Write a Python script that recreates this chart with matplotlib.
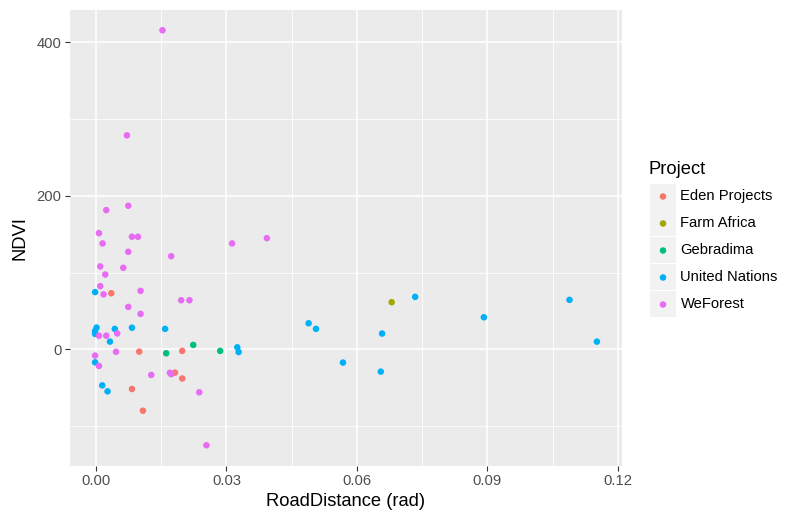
import matplotlib
matplotlib.use("Agg")
import matplotlib.pyplot as plt
from matplotlib.patches import Rectangle
from matplotlib.ticker import MultipleLocator

plt.rcParams['font.family'] = ['Liberation Sans', 'DejaVu Sans']

projects = ["Eden Projects", "Farm Africa", "Gebradima", "United Nations", "WeForest"]
colors = ["#F8766D", "#A3A500", "#00BF7D", "#00B0F6", "#E76BF3"]

eden_x = [0.00352, 0.00995, 0.01984, 0.01816, 0.01984, 0.00828, 0.0108]
eden_y = [73.0, -3.0, -2.1, -30.4, -38.0, -51.7, -80.0]

farm_x = [0.0680]
farm_y = [61.3]

gebr_x = [0.02237, 0.01616, 0.02857]
gebr_y = [5.7, -5.2, -2.1]

un_x = [-0.0002, 0.00014, -0.0002, -0.0002, 0.00433, 0.00828, 0.01590, 0.00322,
        0.0325, 0.0328, -0.0002, 0.00145, 0.00267, 0.0489, 0.0506, 0.0658,
        0.0734, 0.0892, 0.1089, 0.1152, 0.0568, 0.0655]
un_y = [74.5, 28.3, 23.8, 20.0, 26.6, 28.1, 26.6, 10.0,
        2.6, -3.6, -17.0, -47.0, -54.8, 33.9, 26.6, 20.5,
        68.3, 41.7, 64.4, 10.0, -17.3, -29.1]

wef_x = [0.0153, 0.00713, 0.00743, 0.00237, 0.00069, 0.00828, 0.00966, 0.00152,
         0.0313, 0.00743, 0.0173, 0.00099, 0.00628, 0.00214, 0.00099, 0.00175,
         0.01026, 0.0196, 0.0215, 0.00743, 0.01026, 0.00069, 0.00237, 0.0049,
         0.0046, -0.0002, 0.00069, 0.01271, 0.0170, 0.0173, 0.02375, 0.0254,
         0.0393]
wef_y = [415.6, 278.7, 187.0, 181.3, 151.3, 146.6, 146.6, 137.9,
         137.9, 127.0, 121.3, 107.9, 106.2, 97.4, 82.2, 71.5,
         76.1, 63.9, 63.9, 55.2, 46.1, 17.7, 17.7, 20.7,
         -3.2, -8.2, -21.7, -33.4, -30.6, -32.4, -56.0, -125.0,
         144.8]

series_x = [eden_x, farm_x, gebr_x, un_x, wef_x]
series_y = [eden_y, farm_y, gebr_y, un_y, wef_y]

W, H = 790, 513
fig = plt.figure(figsize=(W / 100, H / 100), dpi=100)
fig.patch.set_facecolor("white")

def px_box(l, t, r, b):
    return [l / W, 1 - b / H, (r - l) / W, (b - t) / H]

ax = fig.add_axes(px_box(70, 9.5, 622, 466))
ax.set_facecolor("#EBEBEB")
for sp in ax.spines.values():
    sp.set_visible(False)

for xs, ys, c in zip(series_x, series_y, colors):
    ax.scatter(xs, ys, s=22, color=c, edgecolors="none", zorder=3)

allx = [v for s in series_x for v in s]
ally = [v for s in series_y for v in s]
dx = (max(allx) - min(allx)) * 0.05
dy = (max(ally) - min(ally)) * 0.05
ax.set_xlim(min(allx) - dx, max(allx) + dx)
ax.set_ylim(min(ally) - dy, max(ally) + dy)

ax.xaxis.set_major_locator(MultipleLocator(0.03))
ax.xaxis.set_minor_locator(MultipleLocator(0.015))
ax.yaxis.set_major_locator(MultipleLocator(200))
ax.yaxis.set_minor_locator(MultipleLocator(100))
ax.set_xticks([0.0, 0.03, 0.06, 0.09, 0.12])
ax.set_xticklabels(["0.00", "0.03", "0.06", "0.09", "0.12"])
ax.set_yticks([0, 200, 400])
ax.set_yticklabels(["0", "200", "400"])

ax.grid(which="major", color="white", linewidth=1.1, zorder=0)
ax.grid(which="minor", color="white", linewidth=0.55, zorder=0)
ax.set_axisbelow(True)
ax.tick_params(which="major", length=3.6, width=0.8, color="#333333",
               labelcolor="#4D4D4D", labelsize=10.6, pad=2.5)
ax.tick_params(which="minor", length=0)

ax.set_xlabel("RoadDistance (rad)", fontsize=13.2, color="black", labelpad=3)
ax.set_ylabel("NDVI", fontsize=13.2, color="black", labelpad=6)

# legend
lax = fig.add_axes(px_box(640, 150, 790, 320))
lax.set_xlim(640, 790)
lax.set_ylim(320, 150)
lax.axis("off")
lax.text(649, 170, "Project", fontsize=13.2, va="center", ha="left", color="black")
for i, (name, c) in enumerate(zip(projects, colors)):
    top = 183.5 + 27 * i
    lax.add_patch(Rectangle((650, top), 26, 26, facecolor="#F2F2F2", edgecolor="none"))
    lax.scatter([663], [top + 13], s=22, color=c, edgecolors="none")
    lax.text(680.5, top + 13, name, fontsize=10.6, va="center", ha="left", color="black")

fig.savefig("out.png", dpi=100)
